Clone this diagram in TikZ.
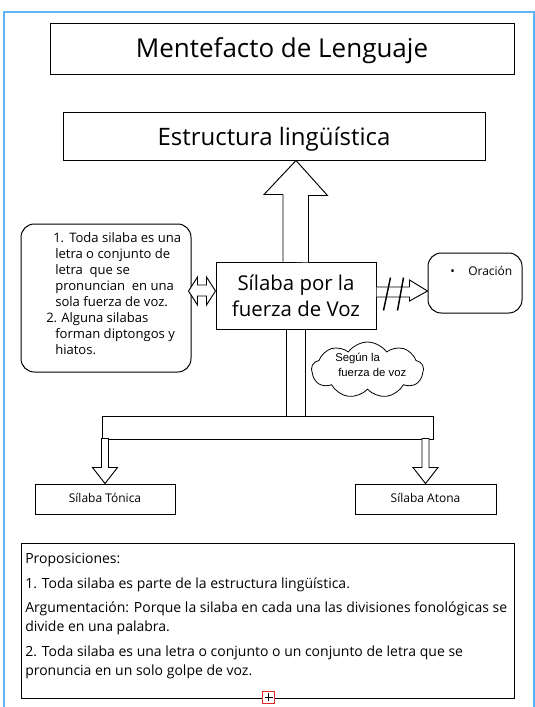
\documentclass[tikz,border=0pt]{standalone}
\usepackage{fontspec}
\setmainfont{Open Sans}
\newfontfamily\arialfont{Liberation Sans}
\usetikzlibrary{fit,calc,shapes.symbols}
\definecolor{marco}{RGB}{92,180,245}
\definecolor{asared}{RGB}{228,40,40}
\tikzstyle{caja} = [draw,line width=0.75pt,inner sep=0pt]
\tikzstyle{redonda} = [caja,rounded corners=10pt]
\tikzstyle{flecha} = [draw,fill=white,line width=0.7pt,line join=miter]
\tikzstyle{texto} = [inner sep=0pt,anchor=base west]
\tikzstyle{centro} = [inner sep=0pt,anchor=base]
\tikzstyle{corte} = [line width=1.1pt]

\begin{document}
\begin{tikzpicture}[x=0.75pt,y=-0.75pt]
\useasboundingbox (0,0) rectangle (535,707);
% marco de la pagina
\draw[marco,line width=1.5pt] (3.5,707) -- (3.5,11.5) -- (534,11.5) -- (534,707);

% cajas
\node[caja,fit={(50,23) (514,74)}] (titulo) {};
\node[caja,fit={(63,112) (485,160)}] (estr) {};
\node[caja,fit={(216,262) (376,329)}] (silaba) {};
\node[redonda,fit={(21,224) (191,372)}] (izq) {};
\node[redonda,fit={(428,253) (522,313)}] (oracion) {};
\node[cloud,draw,cloud puffs=9,cloud puff arc=110,cloud ignores aspect,minimum width=84pt,minimum height=42pt,inner sep=0pt,line width=0.6pt] (nube) at (367.5,370) {};
\node[caja,fit={(102,416) (433,439)}] (barra) {};
\node[caja,fit={(35,484) (175,514)}] (tonica) {};
\node[caja,fit={(355,484) (496,514)}] (atona) {};
\node[caja,fit={(21,543) (514,698)}] (prop) {};

% textos
\node[centro,font=\fontsize{19.5}{24}\selectfont] (titulotxt) at (titulo.center |- 0,57) {Mentefacto de Lenguaje};
\node[centro,font=\fontsize{18}{22}\selectfont] (estrtxt) at (estr.center |- 0,145) {Estructura lingüística};
\node[centro,font=\fontsize{15.3}{19}\selectfont] (sil1) at (silaba.center |- 0,290) {Sílaba por la};
\node[centro,font=\fontsize{15.3}{19}\selectfont] (sil2) at (silaba.center |- 0,316) {fuerza de Voz};

\begin{scope}[font=\fontsize{9.8}{13}\selectfont]
\node[texto] (n1) at (53,242) {1.};
\node[texto] (i1) at (69,242) {Toda silaba es una};
\node[texto] (i2) at (55,258) {letra o conjunto de};
\node[texto] (i3) at (55,274) {letra\ \ que se};
\node[texto] (i4) at (55,290) {pronuncian\ \ en una};
\node[texto] (i5) at (55,306) {sola fuerza de voz.};
\node[texto] (n2) at (46,322) {2.};
\node[texto] (i6) at (61,322) {Alguna silabas};
\node[texto] (i7) at (55,338) {forman diptongos y};
\node[texto] (i8) at (55,354) {hiatos.};
\end{scope}

\node[texto,font=\fontsize{9}{11}\selectfont] (punto) at (450,275.7) {•};
\node[texto,font=\fontsize{9}{11}\selectfont] (oraciontxt) at (468,275.7) {Oración};

\node[texto,font=\arialfont\fontsize{8.5}{10}\selectfont] (nube1) at (335,361.7) {Según la};
\node[texto,font=\arialfont\fontsize{8.5}{10}\selectfont] (nube2) at (338,376.7) {fuerza de voz};

\node[centro,font=\fontsize{9}{11}\selectfont] (tonicatxt) at (tonica.center |- 0,502.3) {Sílaba Tónica};
\node[centro,font=\fontsize{9}{11}\selectfont] (atonatxt) at (atona.center |- 0,502.3) {Sílaba Atona};

\begin{scope}[font=\fontsize{10.5}{13}\selectfont]
\node[texto] (p0) at (25,563) {Proposiciones:};
\node[texto] (p1) at (25,588) {1. Toda silaba es parte de la estructura lingüística.};
\node[texto] (p2) at (25,612.7) {Argumentación: Porque la silaba en cada una las divisiones fonológicas se};
\node[texto] (p3) at (25,631.7) {divide en una palabra.};
\node[texto] (p4) at (25,656.7) {2. Toda silaba es una letra o conjunto o un conjunto de letra que se};
\node[texto] (p5) at (25,675.5) {pronuncia en un solo golpe de voz.};
\end{scope}

% flechas
\draw[flecha] ($(silaba.north)+(-13,0)$) -- ++(0,-67) -- ++(-19,0) -- (silaba.north |- estr.south) -- ++(31.5,35) -- ++(-19,0) -- ++(0,67);
\draw[flecha] ($(silaba.west)+(0,-4.5)$) -- ++(-9,-14) -- ++(0,8) -- ++(-9,0) -- ++(0,-8) -- ++(-9,14) -- ++(9,14) -- ++(0,-9) -- ++(9,0) -- ++(0,9) -- cycle;
\draw[flecha] ($(silaba.east)+(0,-8.5)$) -- ++(33,0) -- ++(0,-7) -- ++(18,11) -- ++(-18,10) -- ++(0,-4) -- ++(-33,0);
\draw[corte] ($(silaba.east)+(7,15)$) -- ++(7,-33);
\draw[corte] ($(silaba.east)+(21,15)$) -- ++(6,-33);

\coordinate (b1) at ($(silaba.south)+(-9.5,0)$);
\coordinate (b2) at ($(silaba.south)+(9.5,0)$);
\draw[line width=0.7pt] (b1) -- (b1 |- barra.north) (b2) -- (b2 |- barra.north);
\foreach \destino in {tonica,atona}
  \draw[flecha] (\destino.north) -- ++(-12.5,-16) -- ++(9,0) -- ++(0,-29) -- ++(7,0) -- ++(0,29) -- ++(9,0) -- cycle;

% asa roja
\node[draw=asared,fill=white,line width=0.6pt,minimum size=9pt,inner sep=0pt] (asa) at (268.5,697) {};
\draw[line width=0.5pt] ($(asa.center)+(-4,0)$) -- ++(8,0) ($(asa.center)+(0,-4)$) -- ++(0,8);
\end{tikzpicture}
\end{document}
